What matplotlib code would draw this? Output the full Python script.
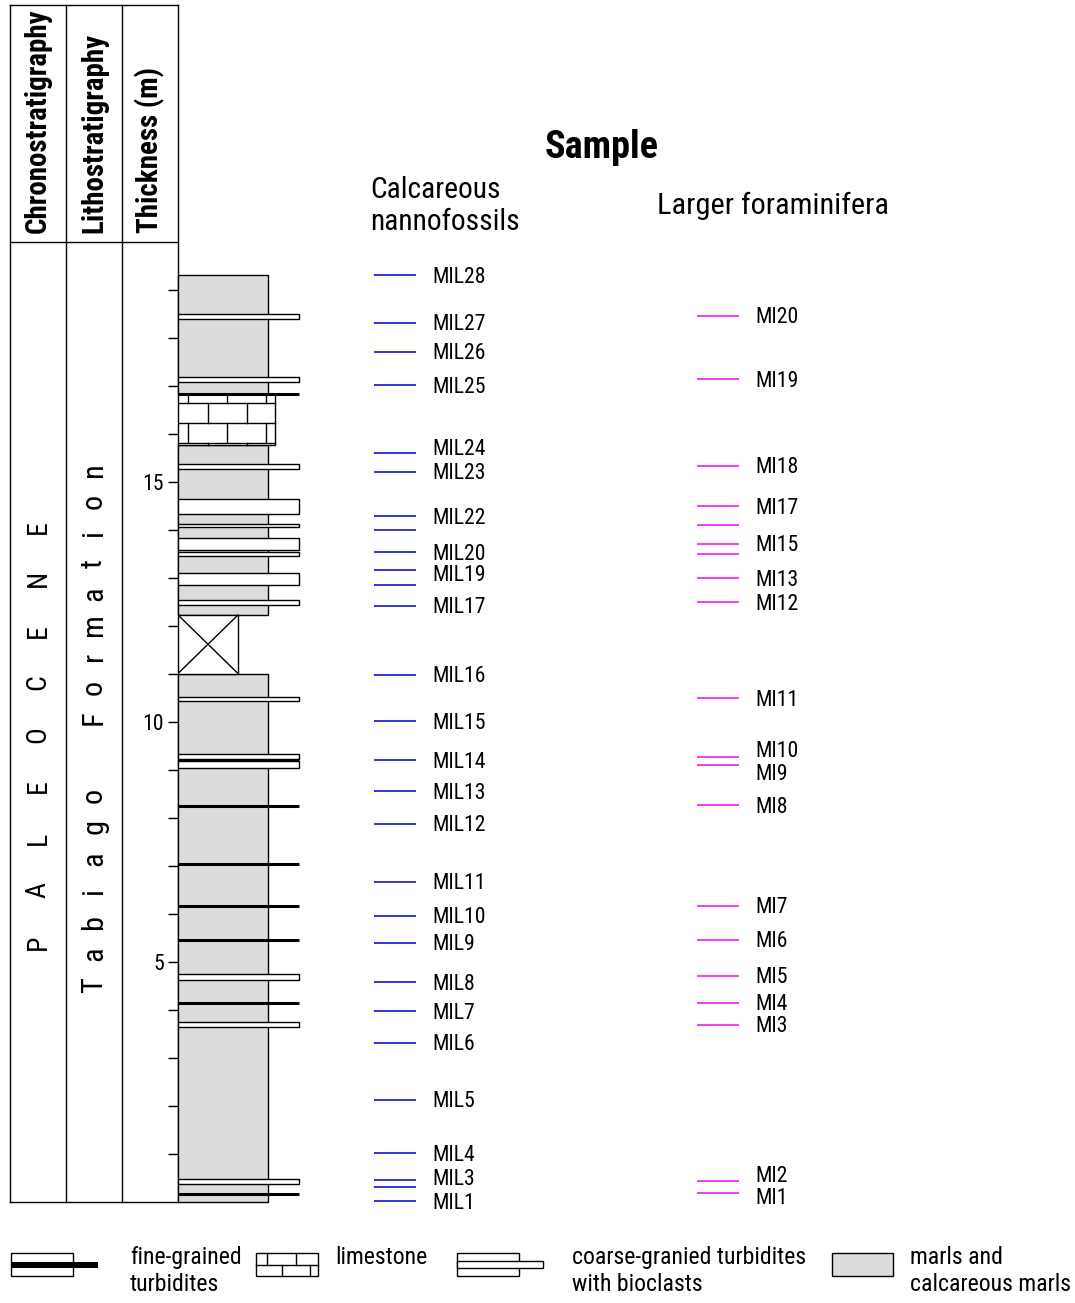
import matplotlib
matplotlib.use('Agg')
import matplotlib.pyplot as plt
from matplotlib.patches import Rectangle
from matplotlib import font_manager as fm
import numpy as np

# ------------------------------------------------------------------ data
# lithology intervals (m): (base, top)
marl_beds = [(0.0, 11.01), (12.23, 15.77), (16.84, 19.31)]
limestone_beds = [(15.77, 16.84)]
covered_intervals = [(11.01, 12.23)]
coarse_beds = [(0.38, 0.48), (3.64, 3.74), (4.62, 4.75), (9.04, 9.18), (9.22, 9.33),
               (10.44, 10.53), (12.44, 12.54), (12.85, 13.11), (13.46, 13.55),
               (13.58, 13.83), (14.06, 14.12), (14.34, 14.65), (15.27, 15.37),
               (17.08, 17.18), (18.40, 18.51)]
fine_beds = [0.16, 4.14, 5.46, 6.17, 7.04, 8.26, 9.20, 16.84]

# samples
nanno_names = ['MIL1', 'MIL2', 'MIL3', 'MIL4', 'MIL5', 'MIL6', 'MIL7', 'MIL8', 'MIL9',
               'MIL10', 'MIL11', 'MIL12', 'MIL13', 'MIL14', 'MIL15', 'MIL16', 'MIL17',
               'MIL18', 'MIL19', 'MIL20', 'MIL21', 'MIL22', 'MIL23', 'MIL24', 'MIL25',
               'MIL26', 'MIL27', 'MIL28']
nanno_levels = [0.02, 0.31, 0.46, 1.02, 2.13, 3.32, 3.97, 4.58, 5.40,
                5.96, 6.67, 7.88, 8.56, 9.20, 10.02, 10.98, 12.42,
                12.85, 13.17, 13.54, 14.00, 14.29, 15.21, 15.60, 17.02,
                17.71, 18.32, 19.31]
foram_names = ['MI1', 'MI2', 'MI3', 'MI4', 'MI5', 'MI6', 'MI7', 'MI8', 'MI9', 'MI10',
               'MI11', 'MI12', 'MI13', 'MI14', 'MI15', 'MI16', 'MI17', 'MI18', 'MI19',
               'MI20']
foram_levels = [0.19, 0.44, 3.69, 4.15, 4.71, 5.46, 6.17, 8.27, 9.11, 9.27,
                10.49, 12.49, 12.99, 13.50, 13.71, 14.10, 14.50, 15.34, 17.14,
                18.46]
unlabeled = {'MIL2', 'MIL18', 'MIL21', 'MI14', 'MI16'}

thickness_labels = [5, 10, 15]
thickness_minor = list(range(1, 20))

chrono_label = 'PALEOCENE'
litho_words = ['Tabiago', 'Formation']
header_labels = ['Chronostratigraphy', 'Lithostratigraphy', 'Thickness (m)']
legend_labels = ['fine-grained\nturbidites', 'limestone',
                 'coarse-granied turbidites\nwith bioclasts', 'marls and\ncalcareous marls']

# ------------------------------------------------------------------ fonts
names = {f.name for f in fm.fontManager.ttflist}
FAM, K, STRETCH = None, 1.0, 'normal'
for cand, k in [('Liberation Sans Narrow', 1.0), ('Arial Narrow', 1.0),
                ('Roboto Condensed', 0.95), ('Open Sans Condensed', 0.95),
                ('Noto Sans Condensed', 0.93)]:
    if cand in names:
        FAM, K = cand, k
        break
if FAM is None:
    for f in fm.fontManager.ttflist:
        if f.name in ('Roboto', 'Noto Sans', 'Open Sans', 'DejaVu Sans') and \
                str(f.stretch) in ('condensed', 'semi-condensed', 'extra-condensed'):
            FAM, STRETCH = f.name, str(f.stretch)
            K = {'Roboto': 0.95, 'Noto Sans': 0.93, 'Open Sans': 0.9, 'DejaVu Sans': 0.85}[f.name]
            break
if FAM is None:
    FAM, K = 'Liberation Sans', 0.85
plt.rcParams['font.family'] = [FAM, 'DejaVu Sans']
plt.rcParams['font.stretch'] = STRETCH

# ------------------------------------------------------------------ layout
W, H = 1075, 1303
PXM = 48.0                 # pixels per metre
Y0 = 1202                  # pixel row of 0 m
TOP = 275                  # pixel row of column top

fig = plt.figure(figsize=(W / 100, H / 100), dpi=100)
L = fig.add_axes([0, 0, 1, 1])
L.set_xlim(0, W)
L.set_ylim(H, 0)
L.axis('off')

ax = fig.add_axes([178 / W, (H - Y0) / H, (W - 178) / W, (Y0 - TOP) / H])
ax.set_xlim(178, W)
ax.set_ylim(0, (Y0 - TOP) / PXM)
for s in ax.spines.values():
    s.set_visible(False)
ax.patch.set_alpha(0)
ax.set_xticks([])

LW = 1.0
MARL = '#dcdcdc'

# ---- left header / boxes
for x in [10, 66, 122, 178]:
    L.plot([x, x], [5, Y0], color='black', lw=LW)
for y in [5, 242]:
    L.plot([10, 178], [y, y], color='black', lw=LW)
L.plot([10, 178], [Y0, Y0], color='black', lw=LW)
for x, lab in zip([38, 94, 150], header_labels):
    L.text(x, 233, lab, rotation=90, ha='center', va='bottom',
           fontsize=22 * K, fontweight='bold')

# PALEOCENE letters
for ch, y in zip(chrono_label, np.linspace(942, 527, len(chrono_label))):
    L.text(38, y, ch, rotation=90, ha='center', va='center', fontsize=21 * K)
# Tabiago Formation letters
for word, (y1, y2) in zip(litho_words, [(985, 795), (718, 470)]):
    for ch, y in zip(word, np.linspace(y1, y2, len(word))):
        L.text(94, y, ch, rotation=90, ha='center', va='center', fontsize=23 * K)

# ---- thickness axis
ax.set_yticks(thickness_labels)
ax.set_yticks(thickness_minor, minor=True)
ax.set_yticklabels([str(v) for v in thickness_labels], fontsize=16.5 * K)
ax.tick_params(axis='y', which='both', direction='out', length=7.2, width=1.0,
               pad=3, left=True, right=False)

# ---- lithological column
for b, t in marl_beds:
    ax.add_patch(Rectangle((178, b), 90, t - b, fc=MARL, ec='black', lw=LW, zorder=2,
                           clip_on=False))
for b, t in limestone_beds:
    ax.add_patch(Rectangle((178, b), 97, t - b, fc='white', ec='black', lw=LW, zorder=3))
    rh = 20 / PXM
    yl = t - 9 / PXM
    rows = [t]
    while yl > b:
        ax.plot([178, 275], [yl, yl], color='black', lw=LW, zorder=3)
        rows.append(yl)
        yl -= rh
    rows.append(b)
    for r in range(len(rows) - 1):
        xs = np.arange(188 if r % 2 == 0 else 207.5, 275, 39)
        for xv in xs:
            ax.plot([xv, xv], [rows[r + 1], rows[r]], color='black', lw=LW, zorder=3)
for b, t in covered_intervals:
    ax.add_patch(Rectangle((178, b), 60, t - b, fc='white', ec='black', lw=LW, zorder=3))
    ax.plot([178, 238], [b, t], color='black', lw=LW, zorder=3)
    ax.plot([178, 238], [t, b], color='black', lw=LW, zorder=3)
for b, t in coarse_beds:
    ax.add_patch(Rectangle((178, b), 121, t - b, fc='white', ec='black', lw=LW, zorder=4))
ax.hlines(fine_beds, 178, 299, color='black', lw=2.2, zorder=5, clip_on=False)

# ---- samples
NUDGE = {'MIL24': -6, 'MIL19': 4, 'MIL3': -2, 'MI10': -8, 'MI9': 8, 'MI2': -6, 'MI1': 4}
ax.hlines(nanno_levels, 374, 416, color='#2323d8', lw=1.3, zorder=5, clip_on=False)
ax.hlines(foram_levels, 697, 739, color='#f030f0', lw=1.3, zorder=5, clip_on=False)
for names_, levels, xt in [(nanno_names, nanno_levels, 432), (foram_names, foram_levels, 755)]:
    for n, v in zip(names_, levels):
        if n in unlabeled:
            continue
        ax.text(xt, v - (NUDGE.get(n, 0) + 2) / PXM, n, ha='left', va='center',
                fontsize=16.5 * K, clip_on=False)

# ---- titles
L.text(602, 147, 'Sample', ha='center', va='center', fontsize=29 * K, fontweight='heavy')
L.text(370, 206, 'Calcareous\nnannofossils', ha='left', va='center',
       fontsize=22.4 * K, linespacing=1.15)
L.text(657, 206, 'Larger foraminifera', ha='left', va='center', fontsize=23.0 * K)

# ---- legend
LY1, LY2 = 1253, 1276
LM = (LY1 + LY2) / 2
# fine-grained
L.add_patch(Rectangle((11, LY1), 62, LY2 - LY1, fc='white', ec='black', lw=LW))
L.plot([11, 98], [LM, LM], color='black', lw=4.3, solid_capstyle='butt')
# limestone
L.add_patch(Rectangle((256, LY1), 62, LY2 - LY1, fc='white', ec='black', lw=LW))
L.plot([256, 318], [LM, LM], color='black', lw=LW)
for xv in [266.5, 296]:
    L.plot([xv, xv], [LY1, LM], color='black', lw=LW)
for xv in [282, 310]:
    L.plot([xv, xv], [LM, LY2], color='black', lw=LW)
# coarse
L.add_patch(Rectangle((457, LY1), 62, LY2 - LY1, fc='white', ec='black', lw=LW))
L.add_patch(Rectangle((457, LM - 3.5), 86, 7, fc='white', ec='black', lw=LW))
# marl
L.add_patch(Rectangle((832, LY1), 61, LY2 - LY1, fc=MARL, ec='black', lw=LW))
for x, lab in zip([130, 335, 572, 910], legend_labels):
    L.text(x, 1246, lab, ha='left', va='top', fontsize=18 * K, linespacing=1.2)

fig.savefig('out.png', dpi=100)
